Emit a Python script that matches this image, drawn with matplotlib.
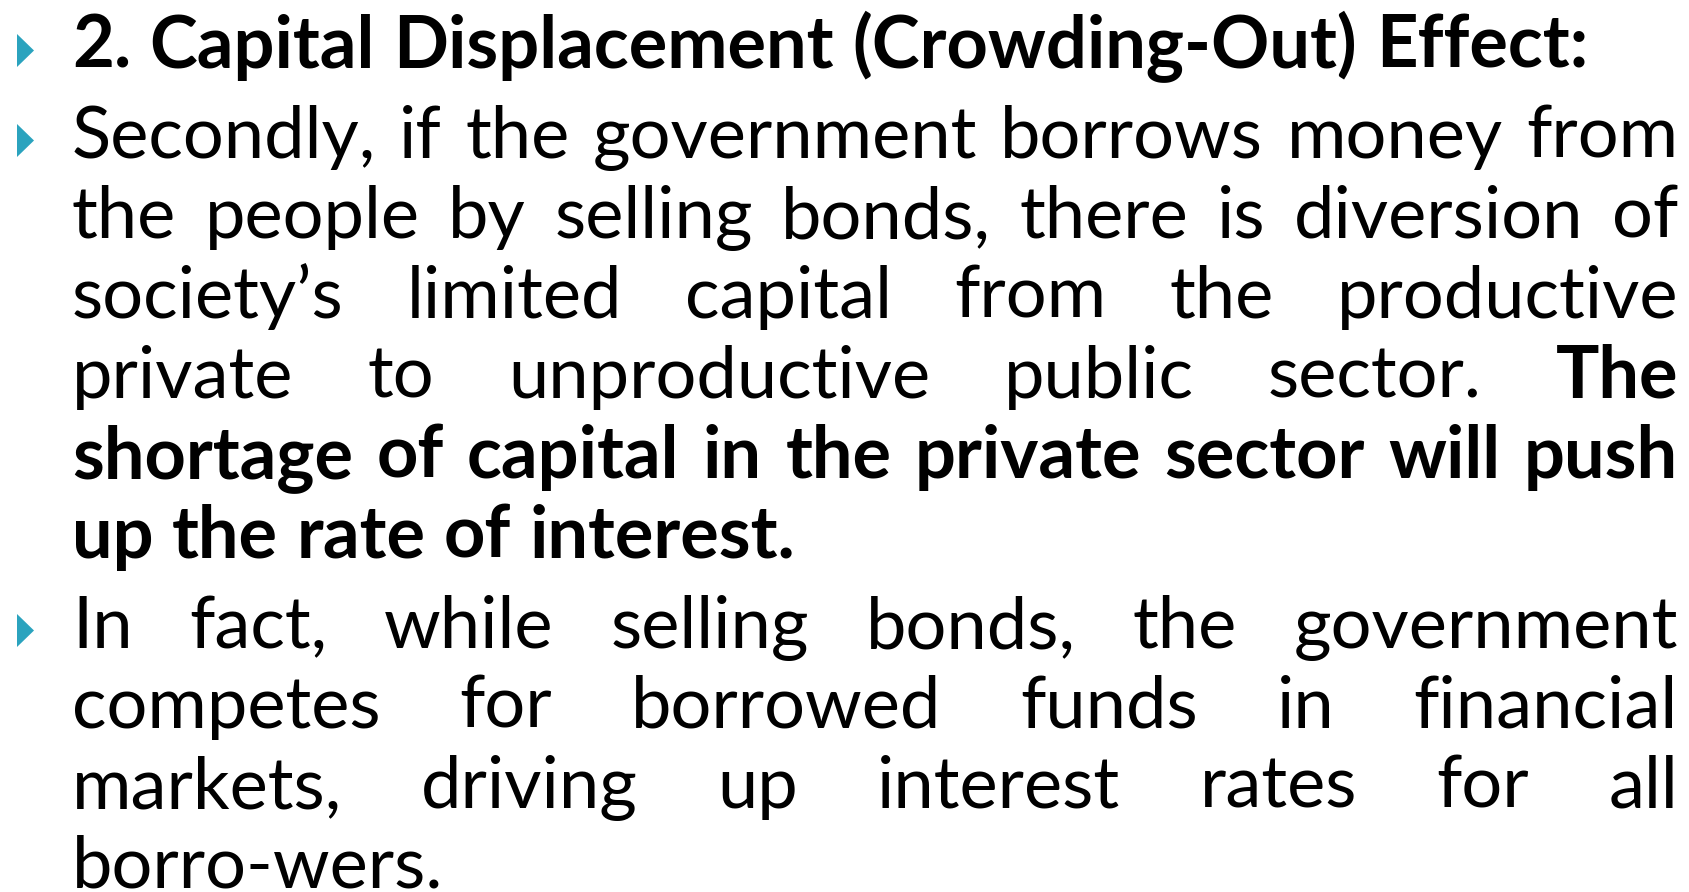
import matplotlib
matplotlib.use("Agg")
import matplotlib.pyplot as plt
from matplotlib.patches import Polygon

# slide text: one entry per line, each a list of (text, weight) runs
heading = "2. Capital Displacement (Crowding-Out) Effect:"
lines = [
    [(heading, "bold")],
    [("Secondly, if the government borrows money from", "normal")],
    [("the people by selling bonds, there is diversion of", "normal")],
    [("society\u2019s limited capital from the productive", "normal")],
    [("private to unproductive public sector.", "normal"), ("The", "bold")],
    [("shortage of capital in the private sector will push", "bold")],
    [("up the rate of interest.", "bold")],
    [("In fact, while selling bonds, the government", "normal")],
    [("competes for borrowed funds in financial", "normal")],
    [("markets, driving up interest rates for all", "normal")],
    [("borro-wers.", "normal")],
]
justified = [False, True, True, True, True, True, False, True, True, True, False]
bulleted = [True, True, False, False, False, False, False, True, False, False, False]
baselines = [68, 158, 238, 318, 398, 478, 558, 648, 728, 808, 888]

W, H = 1690, 892
LEFT, RIGHT = 72, 1678
FONT = "Lato"
TEAL = "#2ba3be"

fig = plt.figure(figsize=(W / 100, H / 100), dpi=100)
ax = fig.add_axes([0, 0, 1, 1])
ax.set_xlim(0, W)
ax.set_ylim(H, 0)
ax.axis("off")
renderer = fig.canvas.get_renderer()


def text_width(s, weight, size):
    t = ax.text(0, 0, s, fontsize=size, fontweight=weight, family=FONT)
    w = t.get_window_extent(renderer).width
    t.remove()
    return w


# pick a size so the heading spans the same width as in the slide
size = 50
size = size * (1588 - LEFT) / text_width(heading, "bold", size)
space = text_width("a b", "normal", size) - text_width("ab", "normal", size)

for runs, just, bul, y in zip(lines, justified, bulleted, baselines):
    words = [(w, wt) for s, wt in runs for w in s.split(" ")]
    widths = [text_width(w, wt, size) for w, wt in words]
    if just and len(words) > 1:
        gap = max((RIGHT - LEFT - sum(widths)) / (len(words) - 1), space * 0.5)
    else:
        gap = space
    x = LEFT
    for (w, wt), wd in zip(words, widths):
        ax.text(x, y, w, fontsize=size, fontweight=wt, family=FONT,
                ha="left", va="baseline", color="black")
        x += wd + gap
    if bul:
        ax.add_patch(Polygon([(17, y - 34), (17, y - 1), (34, y - 17.5)],
                             closed=True, color=TEAL, lw=0))

fig.savefig("out.png", dpi=100)
